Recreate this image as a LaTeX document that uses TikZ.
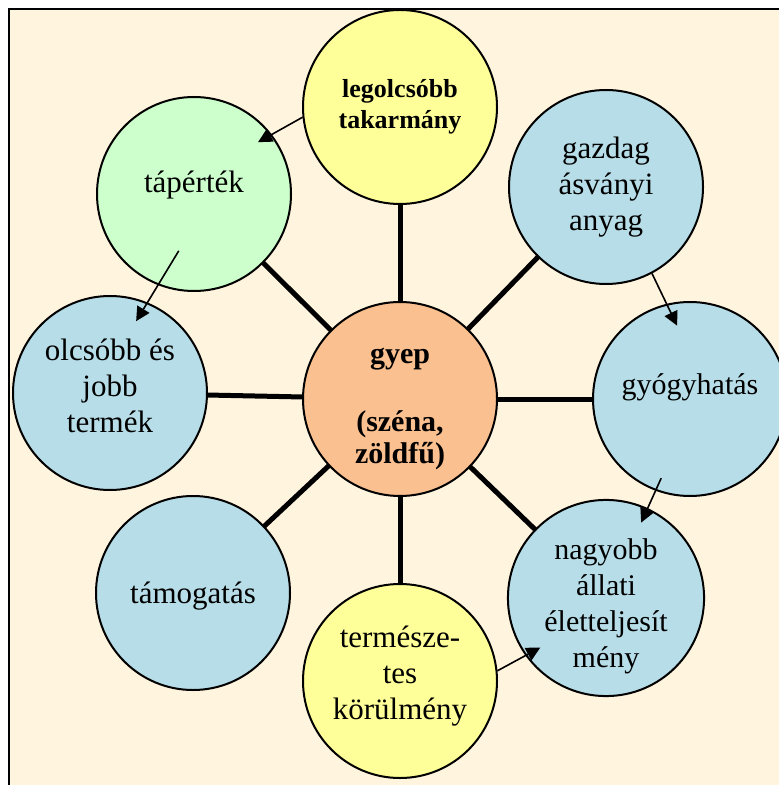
\documentclass[tikz,border=0pt]{standalone}
\usepackage{fontspec}
\setmainfont{Liberation Serif}
\usepackage{xcolor}
\usetikzlibrary{arrows.meta, backgrounds, calc}

\definecolor{paper}{RGB}{255,244,222}
\definecolor{lemon}{RGB}{255,255,153}
\definecolor{mint}{RGB}{204,255,204}
\definecolor{aqua}{RGB}{183,222,232}
\definecolor{peach}{RGB}{250,192,144}

% extra room above / below a text block, to move it off the circle centre
\newcommand{\padtop}[1]{\rule{0pt}{#1}}
\newcommand{\padbot}[1]{\rule[-#1]{0pt}{0pt}}

\begin{document}
\begin{tikzpicture}[
    x=0.5pt, y=-0.5pt,
    bubble/.style  ={circle, draw, line width=1pt, minimum size=97pt, inner sep=0pt,
                     align=center, font=\fontsize{15.5}{18}\selectfont},
    cheap/.style   ={bubble, fill=lemon, font=\fontsize{13}{15.5}\selectfont\bfseries},
    value/.style   ={bubble, fill=mint},
    plain/.style   ={bubble, fill=aqua},
    hub/.style     ={bubble, fill=peach, font=\fontsize{15}{16}\selectfont\bfseries},
    spoke/.style   ={line width=2.5pt},
    flow/.style    ={-{Triangle[length=7pt,width=7pt]}, line width=0.8pt}
]
\useasboundingbox (0,0) rectangle (779,785);

% paper and frame
\begin{scope}[on background layer]
  \fill[paper] (9,9) rectangle (779,785);
  \draw[line width=1pt] (9,785) -- (9,9) -- (779,9);
\end{scope}

% Hub
\node[hub] (gyep) at (400,399) {\padtop{17.5pt}gyep\\[18pt](széna,\\zöldfű)};

% Ring around the hub
\node[cheap] (olcso)  at (400,107) {legolcsóbb\\takarmány};
\node[value] (taper)  at (194,194) {tápérték\padbot{12pt}};
\node[plain] (asvany) at (606,187) {gazdag\\ásványi\\anyag};
\node[plain] (termek) at (110,393) {olcsóbb és\\jobb\\termék\padbot{7pt}};
\node[plain, font=\fontsize{15}{18}\selectfont] (gyogy) at (690,399)
    {gyógyhatás\padbot{15pt}};
\node[plain] (tamog)  at (193,593) {\padtop{14pt}támogatás};
\node[plain, font=\fontsize{15}{18}\selectfont] (allati) at (606,598)
    {\padtop{19pt}nagyobb\\állati\\életteljesít\\mény};
\node[cheap, font=\fontsize{15.5}{18}\selectfont] (termesz) at (400,681)
    {természe-\\tes\\körülmény\padbot{8pt}};

% --- Spokes ---
\begin{scope}[on background layer]
  \foreach \n in {olcso, taper, asvany, termek, gyogy, tamog, allati, termesz}
    \draw[spoke] (gyep.center) -- (\n.center);
\end{scope}

% --- Arrows ---
\draw[flow] (olcso.186) -- ($(taper.center)!0.84!(taper.39)$);
\draw[flow] ($(taper.center)!0.6!(taper.255)$) -- ($(termek.center)!0.78!(termek.70)$);
\draw[flow] (asvany.298) -- ($(gyogy.center)!0.76!(gyogy.100)$);
\draw[flow] ($(gyogy.center)!0.86!(gyogy.250)$) -- ($(allati.center)!0.84!(allati.65)$);
\draw[flow] (termesz.6) -- ($(allati.center)!0.83!(allati.217)$);

\end{tikzpicture}
\end{document}
